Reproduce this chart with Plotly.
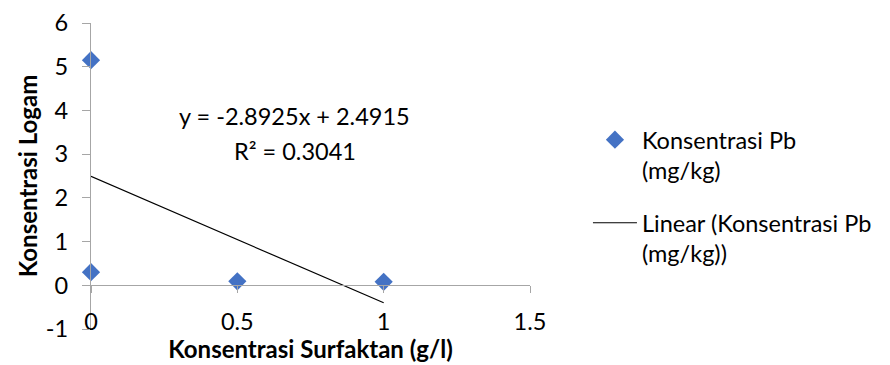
import plotly.graph_objects as go

# Measured Pb concentration (log) against surfactant concentration
surfaktan = [0, 0, 0.5, 1]
konsentrasi_pb = [5.15, 0.30, 0.09, 0.08]

# Linear trendline coefficients and fit statistic
slope = -2.8925
intercept = 2.4915
r_squared = 0.3041
trend_x = [0, 1]
trend_y = [slope * x + intercept for x in trend_x]

x_ticks = [0, 0.5, 1, 1.5]
y_ticks = [-1, 0, 1, 2, 3, 4, 5, 6]

FONT = "Lato, 'Open Sans', sans-serif"
AXIS_GRAY = "#a6a6a6"
TEXT = "#000000"
FS = 23.5

fig = go.Figure()
fig.add_trace(go.Scatter(
    x=surfaktan, y=konsentrasi_pb, mode="markers",
    name="Konsentrasi Pb<br>(mg/kg)", legendgroup="data", cliponaxis=False,
    marker=dict(symbol="diamond", size=14, color="#4472c4"),
))
# trendline on the overlaid axis so the horizontal zero axis is rendered
fig.add_trace(go.Scatter(
    x=trend_x, y=trend_y, mode="lines", xaxis="x2",
    name="Linear (Konsentrasi Pb<br>(mg/kg))", legendgroup="trend",
    line=dict(color="black", width=1.2),
))

eq_text = f"y = {slope}x + {intercept}"
r2_text = f"R² = {r_squared}"
fig.add_annotation(x=0.697, y=3.87, text=eq_text, showarrow=False,
                   xanchor="center", yanchor="middle",
                   font=dict(family=FONT, size=FS, color=TEXT))
fig.add_annotation(x=0.697, y=3.07, text=r2_text, showarrow=False,
                   xanchor="center", yanchor="middle",
                   font=dict(family=FONT, size=FS, color=TEXT))

y_min, y_max = -1, 6
zero_pos = (0 - y_min) / (y_max - y_min)

fig.update_layout(
    width=890, height=365,
    margin=dict(l=91, r=360, t=23, b=36, autoexpand=False),
    paper_bgcolor="white", plot_bgcolor="white",
    font=dict(family=FONT, size=FS, color=TEXT),
    showlegend=True,
    legend=dict(
        x=1.132, y=0.69, xanchor="left", yanchor="top",
        font=dict(family=FONT, size=FS, color=TEXT),
        valign="top", tracegroupgap=19, itemwidth=44,
        traceorder="grouped",
        bgcolor="rgba(0,0,0,0)",
    ),
    xaxis=dict(
        range=[0, 1.5], tickvals=x_ticks, ticktext=[str(v) for v in x_ticks],
        showline=False, showgrid=False, zeroline=False, ticks="",
        ticklabelstandoff=-24, automargin=False,
        title=dict(text="<b>Konsentrasi Surfaktan (g/l)</b>", standoff=0,
                   font=dict(family=FONT, size=24, color=TEXT)),
        tickfont=dict(family=FONT, size=FS, color=TEXT),
    ),
    xaxis2=dict(
        range=[0, 1.5], tickvals=x_ticks, overlaying="x", anchor="free",
        position=zero_pos, side="bottom", automargin=False,
        showline=True, linecolor=AXIS_GRAY, linewidth=1.2,
        ticks="outside", ticklen=7, tickcolor=AXIS_GRAY, tickwidth=1.2,
        showticklabels=False, showgrid=False, zeroline=False,
    ),
    yaxis=dict(
        range=[y_min, y_max], tickvals=y_ticks,
        ticktext=[str(v) for v in y_ticks],
        showline=True, linecolor=AXIS_GRAY, linewidth=1.2,
        ticks="outside", ticklen=8, tickcolor=AXIS_GRAY, tickwidth=1.2,
        ticklabelstandoff=9, automargin=False,
        showgrid=False, zeroline=False,
        title=dict(text="<b>Konsentrasi Logam</b>", standoff=1,
                   font=dict(family=FONT, size=24, color=TEXT)),
        tickfont=dict(family=FONT, size=FS, color=TEXT),
    ),
)

fig.write_html("out.html")
